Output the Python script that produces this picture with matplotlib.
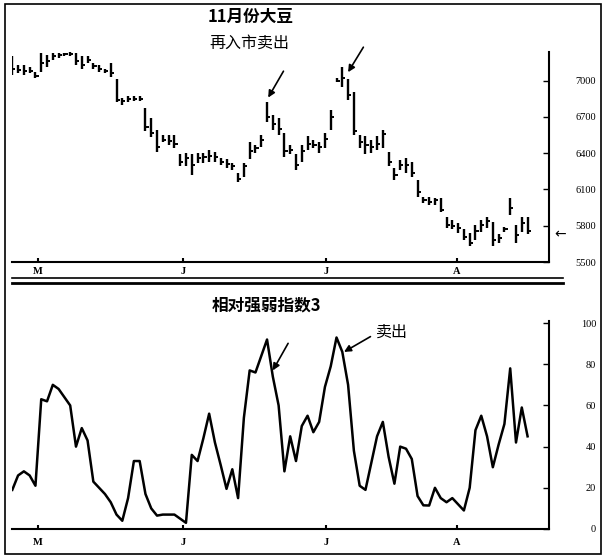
import matplotlib
matplotlib.use("Agg")
import matplotlib.pyplot as plt
from matplotlib.lines import Line2D
from matplotlib.patches import Rectangle
import numpy as np

plt.rcParams["font.family"] = ["Noto Sans CJK SC", "DejaVu Sans"]

# daily bars, November soybeans (cents)
high = [7200, 7130, 7130, 7110, 7070, 7230, 7210, 7230, 7230, 7230,
        7240, 7230, 7200, 7200, 7150, 7130, 7100, 7150, 7010, 6860,
        6870, 6870, 6870, 6770, 6690, 6590, 6550, 6550, 6550, 6390,
        6400, 6390, 6400, 6400, 6430, 6410, 6360, 6350, 6320, 6240,
        6320, 6490, 6470, 6550, 6820, 6720, 6690, 6570, 6470, 6390,
        6470, 6540, 6510, 6490, 6570, 6760, 7020, 7110, 7010, 6910,
        6550, 6540, 6510, 6540, 6590, 6410, 6280, 6340, 6360, 6330,
        6180, 6040, 6040, 6030, 6030, 5870, 5850, 5820, 5770, 5740,
        5810, 5850, 5870, 5830, 5730, 5790, 6030, 5810, 5870, 5870]
low = [7050, 7060, 7050, 7060, 7020, 7070, 7110, 7170, 7190, 7200,
       7200, 7130, 7100, 7150, 7100, 7070, 7060, 7030, 6820, 6800,
       6820, 6830, 6830, 6580, 6530, 6410, 6490, 6470, 6440, 6290,
       6290, 6220, 6320, 6320, 6330, 6330, 6300, 6280, 6260, 6160,
       6200, 6350, 6400, 6450, 6660, 6590, 6550, 6370, 6390, 6260,
       6330, 6430, 6440, 6400, 6440, 6590, 6990, 6950, 6840, 6550,
       6440, 6390, 6400, 6430, 6440, 6290, 6180, 6260, 6240, 6200,
       6040, 5990, 5970, 5970, 5910, 5780, 5770, 5740, 5680, 5630,
       5680, 5750, 5780, 5630, 5660, 5750, 5890, 5660, 5750, 5730]
close = [7100, 7090, 7080, 7080, 7040, 7150, 7160, 7200, 7210, 7220,
         7220, 7160, 7130, 7170, 7120, 7100, 7080, 7060, 6840, 6830,
         6850, 6850, 6850, 6620, 6570, 6450, 6510, 6500, 6480, 6330,
         6360, 6300, 6360, 6370, 6380, 6370, 6330, 6310, 6290, 6190,
         6290, 6420, 6440, 6510, 6700, 6640, 6600, 6420, 6430, 6300,
         6420, 6480, 6470, 6450, 6520, 6700, 7000, 7020, 6880, 6580,
         6490, 6470, 6450, 6480, 6560, 6330, 6220, 6300, 6300, 6240,
         6080, 6010, 6000, 6010, 5930, 5810, 5800, 5780, 5710, 5660,
         5760, 5810, 5840, 5680, 5700, 5770, 5950, 5720, 5820, 5760]

# 3-day relative strength index
rsi = [19, 26, 28, 26, 21, 63, 62, 70, 68, 64,
       60, 40, 49, 43, 23, 20, 17, 13, 7, 4,
       15, 33, 33, 17, 10, 6.5, 7, 7, 7, 5,
       3, 36, 33, 44, 56, 42, 31, 19.5, 29, 15,
       54, 77, 76, 84, 92, 74, 60, 28, 45, 33,
       50, 55, 47, 52, 69, 79, 93, 86, 70, 38,
       21, 19, 32, 45, 52, 35, 22, 40, 39, 34,
       16, 11.5, 11.4, 20, 15, 13, 15, 12, 9, 20,
       48, 55, 45, 30, 41, 51, 78, 42, 59, 45]

month_labels = ["M", "J", "J", "A"]
month_pos = [4.4, 29.5, 54.2, 76.8]
price_ticks = [5500, 5800, 6100, 6400, 6700, 7000]
rsi_ticks = [0, 20, 40, 60, 80, 100]

W, H = 606, 560
fig = plt.figure(figsize=(W / 100, H / 100), dpi=100)


def box(l, t, r, b):
    return [l / W, 1 - b / H, (r - l) / W, (b - t) / H]


def fpx(x, y):
    return x / W, 1 - y / H


x = np.arange(len(high))
serif = "Liberation Serif"

# ---- price panel
ax = fig.add_axes(box(12, 52, 549, 262))
ax.vlines(x, low, high, color="black", lw=1.7)
ax.hlines(close, x, x + 0.55, color="black", lw=1.4)
ax.set_xlim(-0.05, 92.7)
ax.set_ylim(5500, 7237)

# ---- RSI panel
ax2 = fig.add_axes(box(12, 321, 549, 529))
ax2.plot(x, rsi, color="black", lw=1.8)
ax2.set_xlim(-0.05, 92.7)
ax2.set_ylim(1, 101)

for a, ticks, pad in [(ax, price_ticks, 3.5), (ax2, rsi_ticks, 6.5)]:
    for s in ["left", "top"]:
        a.spines[s].set_visible(False)
    a.spines["right"].set_linewidth(1.5)
    a.spines["bottom"].set_linewidth(1.5)
    a.yaxis.tick_right()
    a.set_yticks(ticks)
    a.tick_params(axis="y", direction="in", length=4, width=1, pad=34,
                  labelsize=7.5, labelfontfamily=serif)
    for lab in a.get_yticklabels():
        lab.set_horizontalalignment("right")
    a.set_xticks(month_pos)
    a.set_xticklabels(month_labels, fontfamily=serif, fontsize=7.5,
                      fontweight="bold")
    a.tick_params(axis="x", direction="in", length=3, width=1.5, pad=pad)
    a.patch.set_alpha(0)

# separator lines between panels
fig.add_artist(Line2D([12 / W, 563 / W], [1 - 278 / H] * 2, color="black", lw=1.2))
fig.add_artist(Line2D([12 / W, 563 / W], [1 - 283 / H] * 2, color="black", lw=2.0))

# outer frame
fig.add_artist(Rectangle(fpx(5, 554), 596 / W, 550 / H, transform=fig.transFigure,
                         fill=False, ec="black", lw=1.2))

# titles
fig.text(*fpx(251, 17), "11月份大豆", fontsize=12, fontweight="bold",
         ha="center", va="center")
fig.text(*fpx(249, 43), "再入市卖出", fontsize=11.5, ha="center", va="center")
fig.text(*fpx(266, 305), "相对强弱指数3", fontsize=12, fontweight="bold",
         ha="center", va="center")
fig.text(*fpx(392, 332), "卖出", fontsize=11.5, ha="center", va="center")

arrow = dict(arrowstyle="-|>", color="black", lw=1.2, mutation_scale=10,
             shrinkA=0, shrinkB=0)

# arrows on price peaks
ax.annotate("", xy=(44.2, high[44] + 40), xytext=(11, 19),
            textcoords="offset points", arrowprops=arrow)
ax.annotate("", xy=(58, high[57] - 40), xytext=(11, 18),
            textcoords="offset points", arrowprops=arrow)
# arrows on RSI peaks
ax2.annotate("", xy=(45, 77), xytext=(11, 19.5),
             textcoords="offset points", arrowprops=arrow)
ax2.annotate("", xy=(57.3, 86), xytext=(19, 11),
             textcoords="offset points", arrowprops=arrow)

# last-price marker
fig.text(*fpx(560, 234), "←", fontsize=10, ha="center", va="center",
         family=["DejaVu Sans"])

fig.savefig("out.png", dpi=100)
